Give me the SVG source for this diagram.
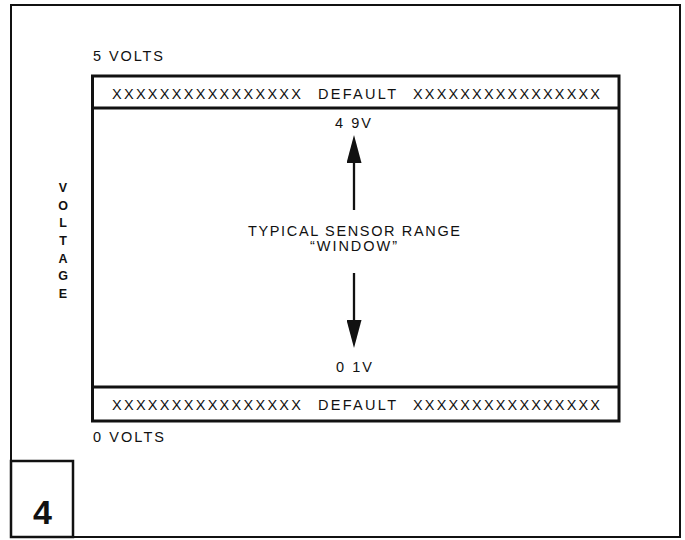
<svg xmlns="http://www.w3.org/2000/svg" width="685" height="540" viewBox="0 0 685 540">
<defs>
<style>
.t{font-family:"Liberation Sans",Arial,sans-serif;font-size:14.5px;fill:#111}
.b{font-family:"Liberation Sans",Arial,sans-serif;font-size:12.5px;font-weight:bold;fill:#111}
.ln{fill:none;stroke:#111}
</style>
<marker id="ah" viewBox="0 0 28 15" refX="0" refY="7.5" markerWidth="28" markerHeight="15" markerUnits="userSpaceOnUse" orient="auto">
<path d="M0,0 L28,7.5 L0,15 Z" fill="#111"/>
</marker>
</defs>
<rect width="685" height="540" fill="#fff"/>
<g id="frame">
<rect class="ln" x="11" y="5" width="669" height="532" stroke-width="2"/>
</g>
<g id="fig-number">
<rect class="ln" x="11" y="461" width="62" height="76" stroke-width="2.5"/>
<text x="42.5" y="524" text-anchor="middle" style="font-family:'Liberation Sans',Arial,sans-serif;font-size:34px;font-weight:bold;fill:#111">4</text>
</g>
<g id="voltage-axis">
<text class="b" x="63" y="192" text-anchor="middle">V</text>
<text class="b" x="63" y="209.7" text-anchor="middle">O</text>
<text class="b" x="63" y="227.3" text-anchor="middle">L</text>
<text class="b" x="63" y="245" text-anchor="middle">T</text>
<text class="b" x="63" y="262.7" text-anchor="middle">A</text>
<text class="b" x="63" y="280.3" text-anchor="middle">G</text>
<text class="b" x="63" y="298" text-anchor="middle">E</text>
</g>
<g id="label-5v">
<text class="t" x="93" y="61" textLength="70" lengthAdjust="spacing">5 VOLTS</text>
</g>
<g id="label-0v">
<text class="t" x="93" y="442" textLength="71" lengthAdjust="spacing">0 VOLTS</text>
</g>
<g id="window-box">
<rect class="ln" x="92.5" y="76" width="526.5" height="345" stroke-width="3"/>
</g>
<g id="top-default">
<line class="ln" x1="92.5" y1="108" x2="619" y2="108" stroke-width="3"/>
<text class="t" x="112" y="99" textLength="189" lengthAdjust="spacing">XXXXXXXXXXXXXXXX</text>
<text class="t" x="318" y="99" textLength="78" lengthAdjust="spacing">DEFAULT</text>
<text class="t" x="413" y="99" textLength="187" lengthAdjust="spacing">XXXXXXXXXXXXXXXX</text>
</g>
<g id="bottom-default">
<line class="ln" x1="92.5" y1="387" x2="619" y2="387" stroke-width="3"/>
<text class="t" x="112" y="410" textLength="189" lengthAdjust="spacing">XXXXXXXXXXXXXXXX</text>
<text class="t" x="318" y="410" textLength="78" lengthAdjust="spacing">DEFAULT</text>
<text class="t" x="413" y="410" textLength="187" lengthAdjust="spacing">XXXXXXXXXXXXXXXX</text>
</g>
<g id="range-label">
<text class="t" x="335" y="128" textLength="36" lengthAdjust="spacing">4 9V</text>
<text class="t" x="248" y="236" textLength="212" lengthAdjust="spacing">TYPICAL SENSOR RANGE</text>
<text class="t" x="310" y="251" textLength="87" lengthAdjust="spacing">“WINDOW”</text>
<text class="t" x="336" y="372" textLength="36" lengthAdjust="spacing">0 1V</text>
</g>
<g id="connectors">
<line class="ln" x1="354" y1="210" x2="354" y2="163" stroke-width="2.3" marker-end="url(#ah)"/>
<line class="ln" x1="354" y1="273" x2="354" y2="320" stroke-width="2.3" marker-end="url(#ah)"/>
</g>
</svg>
